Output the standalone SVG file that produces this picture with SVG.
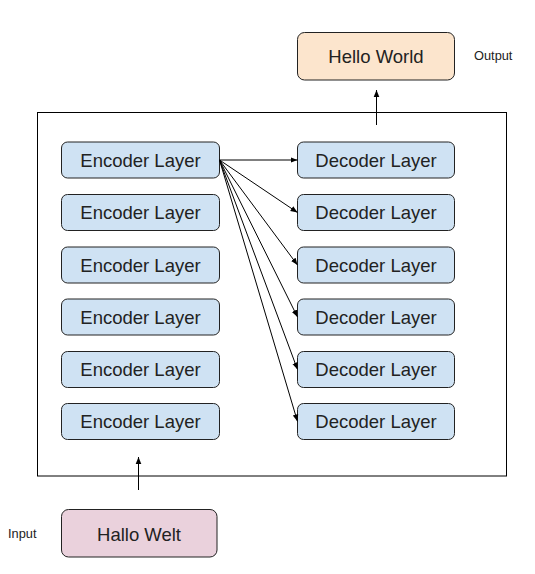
<svg xmlns="http://www.w3.org/2000/svg" width="535" height="574" viewBox="0 0 535 574">
<style>
.box{stroke:#222;stroke-width:1}
.enc{fill:#cfe2f3}
.t{font-family:"Liberation Sans",Arial,sans-serif;font-size:18.5px;fill:#222;text-anchor:middle;dominant-baseline:central}
.s{font-family:"Liberation Sans",Arial,sans-serif;font-size:12.8px;fill:#222}
.c{stroke:#000;stroke-width:1;fill:none;marker-end:url(#ah)}
</style>
<defs>
<marker id="ah" viewBox="0 0 10 10" refX="10" refY="5" markerWidth="7" markerHeight="7" markerUnits="userSpaceOnUse" orient="auto">
<path d="M0,1 L10,5 L0,9 z" fill="#000"/>
</marker>
</defs>
<rect width="535" height="574" fill="#fff"/>
<rect id="frame" x="37.5" y="112.5" width="469" height="363.5" fill="none" stroke="#000" stroke-width="1"/>
<g id="output"><rect class="box" x="297.5" y="32.5" width="157" height="47.5" rx="7" fill="#fce5cd"/><text class="t" x="376" y="56">Hello World</text></g>
<g id="output-label"><text class="s" x="474" y="60">Output</text></g>
<g id="input"><rect class="box" x="61.5" y="509.5" width="155.5" height="47.5" rx="7" fill="#ead1dc"/><text class="t" x="139" y="534">Hallo Welt</text></g>
<g id="input-label"><text class="s" x="8" y="538">Input</text></g>
<g id="enc1"><rect class="box enc" x="61.5" y="142" width="158" height="36" rx="6"/><text class="t" x="140.5" y="160">Encoder Layer</text></g>
<g id="enc2"><rect class="box enc" x="61.5" y="194.5" width="158" height="36" rx="6"/><text class="t" x="140.5" y="212.5">Encoder Layer</text></g>
<g id="enc3"><rect class="box enc" x="61.5" y="247" width="158" height="36" rx="6"/><text class="t" x="140.5" y="265">Encoder Layer</text></g>
<g id="enc4"><rect class="box enc" x="61.5" y="299" width="158" height="36" rx="6"/><text class="t" x="140.5" y="317">Encoder Layer</text></g>
<g id="enc5"><rect class="box enc" x="61.5" y="351.5" width="158" height="36" rx="6"/><text class="t" x="140.5" y="369.5">Encoder Layer</text></g>
<g id="enc6"><rect class="box enc" x="61.5" y="403.5" width="158" height="36" rx="6"/><text class="t" x="140.5" y="421.5">Encoder Layer</text></g>
<g id="dec1"><rect class="box enc" x="297.5" y="142" width="157" height="36" rx="6"/><text class="t" x="376" y="160">Decoder Layer</text></g>
<g id="dec2"><rect class="box enc" x="297.5" y="194.5" width="157" height="36" rx="6"/><text class="t" x="376" y="212.5">Decoder Layer</text></g>
<g id="dec3"><rect class="box enc" x="297.5" y="247" width="157" height="36" rx="6"/><text class="t" x="376" y="265">Decoder Layer</text></g>
<g id="dec4"><rect class="box enc" x="297.5" y="299" width="157" height="36" rx="6"/><text class="t" x="376" y="317">Decoder Layer</text></g>
<g id="dec5"><rect class="box enc" x="297.5" y="351.5" width="157" height="36" rx="6"/><text class="t" x="376" y="369.5">Decoder Layer</text></g>
<g id="dec6"><rect class="box enc" x="297.5" y="403.5" width="157" height="36" rx="6"/><text class="t" x="376" y="421.5">Decoder Layer</text></g>
<g id="connectors">
<line class="c" x1="376.5" y1="125" x2="376.5" y2="90"/>
<line class="c" x1="138.5" y1="490" x2="138.5" y2="457"/>
<line class="c" x1="219.5" y1="160" x2="297.5" y2="160"/>
<line class="c" x1="219.5" y1="160" x2="297.5" y2="212.5"/>
<line class="c" x1="219.5" y1="160" x2="297.5" y2="265"/>
<line class="c" x1="219.5" y1="160" x2="297.5" y2="317"/>
<line class="c" x1="219.5" y1="160" x2="297.5" y2="369.5"/>
<line class="c" x1="219.5" y1="160" x2="297.5" y2="421.5"/>
</g>
</svg>
